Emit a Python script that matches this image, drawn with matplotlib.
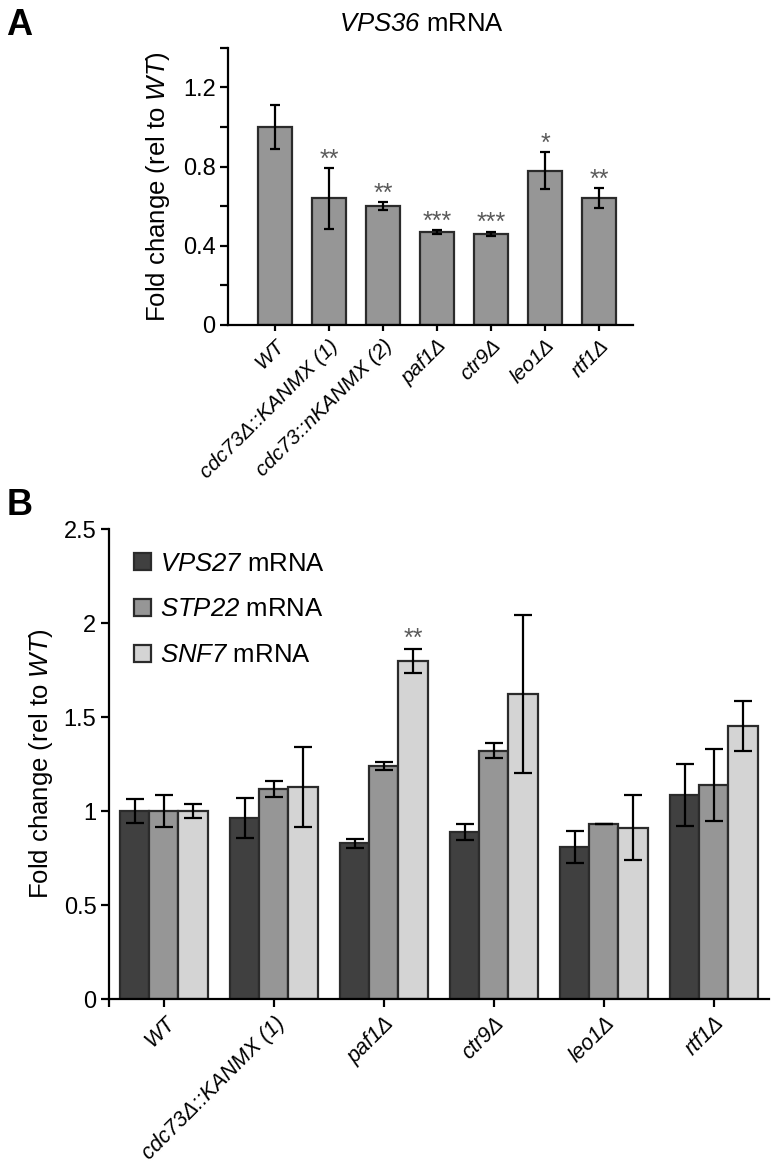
import matplotlib
matplotlib.use("Agg")
import matplotlib.pyplot as plt
import matplotlib.transforms as mtrans
import numpy as np

plt.rcParams['font.family'] = ['Liberation Sans', 'DejaVu Sans']
plt.rcParams['mathtext.fontset'] = 'custom'
plt.rcParams['mathtext.rm'] = 'Liberation Sans'
plt.rcParams['mathtext.it'] = 'Liberation Sans:italic'
plt.rcParams['mathtext.sf'] = 'Liberation Sans:italic'
plt.rcParams['mathtext.bf'] = 'Liberation Sans:bold'

# ---------------- Panel A data ----------------
a_labels = ["WT", "cdc73Δ::KANMX (1)", "cdc73::nKANMX (2)", "paf1Δ", "ctr9Δ", "leo1Δ", "rtf1Δ"]
a_values = [1.00, 0.64, 0.60, 0.47, 0.46, 0.78, 0.64]
a_errors = [0.11, 0.155, 0.02, 0.012, 0.012, 0.095, 0.05]
a_stars = ["", "**", "**", "***", "***", "*", "**"]

# ---------------- Panel B data ----------------
b_labels = ["WT", "cdc73Δ::KANMX (1)", "paf1Δ", "ctr9Δ", "leo1Δ", "rtf1Δ"]
b_series = ["VPS27", "STP22", "SNF7"]
vps27 = [1.00, 0.963, 0.828, 0.890, 0.809, 1.085]
vps27_err = [0.065, 0.106, 0.025, 0.042, 0.085, 0.164]
stp22 = [1.00, 1.115, 1.241, 1.321, 0.930, 1.138]
stp22_err = [0.083, 0.043, 0.022, 0.040, 0.0, 0.193]
snf7 = [1.00, 1.127, 1.798, 1.624, 0.912, 1.452]
snf7_err = [0.035, 0.212, 0.064, 0.421, 0.174, 0.131]
b_stars = {("SNF7", 2): "**"}

edge = "#2b2b2b"
star_color = "#5a5a5a"
fig = plt.figure(figsize=(7.74, 11.63), dpi=100)

# ---------------- Panel A ----------------
axA = fig.add_axes([0.2946, 0.7206, 0.5233, 0.2382])
xa = np.arange(len(a_labels))
axA.bar(xa, a_values, width=0.62, color="#969696", edgecolor=edge, linewidth=1.6, zorder=2)
axA.errorbar(xa, a_values, yerr=a_errors, fmt="none", ecolor="black", elinewidth=1.6,
             capsize=3.8, capthick=1.6, zorder=3)
for x, v, e, s in zip(xa, a_values, a_errors, a_stars):
    if s:
        axA.text(x, v + e + 0.006, s, ha="center", va="baseline", fontsize=18, color=star_color)
axA.set_xlim(-0.87, 6.63)
axA.set_ylim(0, 1.4)
axA.set_yticks(np.arange(0, 1.41, 0.2))
axA.set_yticklabels(["0", "", "0.4", "", "0.8", "", "1.2", ""])
axA.set_xticks(xa)
axA.set_xticklabels(a_labels, rotation=45, ha="right", rotation_mode="anchor",
                    fontstyle="italic", fontsize=15)
offA = mtrans.ScaledTranslation(4 / 100, 0, fig.dpi_scale_trans)
for lab in axA.get_xticklabels():
    lab.set_transform(lab.get_transform() + offA)
for sp in ["top", "right"]:
    axA.spines[sp].set_visible(False)
for sp in ["left", "bottom"]:
    axA.spines[sp].set_linewidth(1.6)
axA.tick_params(axis="y", length=6, width=1.6, labelsize=17, pad=3)
axA.tick_params(axis="x", length=4, width=1.6, pad=4)
axA.set_ylabel(r"Fold change (rel to $\mathsf{WT}$)", fontsize=18.5, labelpad=8)
fig.text(422 / 774, 1 - 24 / 1163, r"$\mathsf{VPS36}$ mRNA", fontsize=18.5,
         ha="center", va="center")

# ---------------- Panel B ----------------
axB = fig.add_axes([0.1408, 0.1410, 0.8527, 0.4041])
xb = np.arange(len(b_labels))
w = 0.264
colors = ["#404040", "#969696", "#d4d4d4"]
vals = [vps27, stp22, snf7]
errs = [vps27_err, stp22_err, snf7_err]
for i, (name, v, e, c) in enumerate(zip(b_series, vals, errs, colors)):
    pos = xb + (i - 1) * w
    axB.bar(pos, v, width=w, color=c, edgecolor=edge, linewidth=1.6, zorder=2,
            label=r"$\mathsf{%s}$ mRNA" % name)
    axB.errorbar(pos, v, yerr=e, fmt="none", ecolor="black", elinewidth=1.6,
                 capsize=6.3, capthick=1.6, zorder=3)
    for j in range(len(b_labels)):
        s = b_stars.get((name, j))
        if s:
            axB.text(pos[j], v[j] + e[j] + 0.014, s, ha="center", va="baseline",
                     fontsize=18, color=star_color)
axB.set_xlim(-0.5, 5.5)
axB.set_ylim(0, 2.5)
axB.set_yticks([0, 0.5, 1, 1.5, 2, 2.5])
axB.set_yticklabels(["0", "0.5", "1", "1.5", "2", "2.5"])
axB.set_xticks(xb)
axB.set_xticks([-0.5], minor=True)
axB.set_xticklabels(b_labels, rotation=45, ha="right", rotation_mode="anchor",
                    fontstyle="italic", fontsize=15.5)
offB = mtrans.ScaledTranslation(8 / 100, 0, fig.dpi_scale_trans)
for lab in axB.get_xticklabels():
    lab.set_transform(lab.get_transform() + offB)
for sp in ["top", "right"]:
    axB.spines[sp].set_visible(False)
for sp in ["left", "bottom"]:
    axB.spines[sp].set_linewidth(1.6)
axB.tick_params(axis="y", length=6, width=1.6, labelsize=17, pad=3)
axB.tick_params(axis="x", which="both", length=6, width=1.6, pad=4)
axB.set_ylabel(r"Fold change (rel to $\mathsf{WT}$)", fontsize=18.5, labelpad=6)
leg = axB.legend(loc="upper left", bbox_to_anchor=(0.015, 0.985), frameon=False, fontsize=18.5,
                 handlelength=0.65, handleheight=0.65, handletextpad=0.35, labelspacing=0.85,
                 borderaxespad=0.2)

fig.text(0.008, 0.993, "A", fontsize=26, fontweight="bold", va="top", ha="left")
fig.text(0.008, 0.58, "B", fontsize=26, fontweight="bold", va="top", ha="left")

fig.savefig("out.png", dpi=100)
